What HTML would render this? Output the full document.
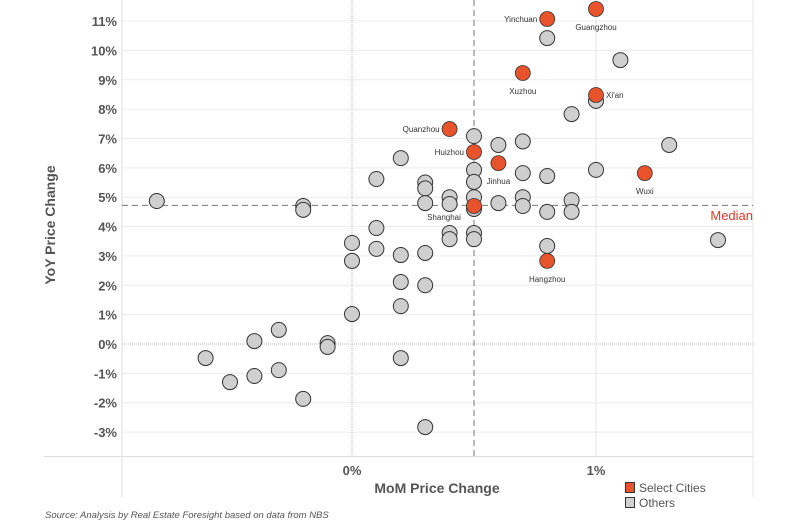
<!DOCTYPE html>
<html><head><meta charset="utf-8"><style>
body{margin:0;background:#fff;width:794px;height:532px;overflow:hidden;font-family:"Liberation Sans",sans-serif}
svg{display:block}
</style></head><body>
<svg id="chart" width="794" height="532">
<g id="grid"></g>
<g id="marks"></g>
<g id="labels"></g>
<text x="55" y="225" transform="rotate(-90 55 225)" text-anchor="middle" font-size="14" font-weight="bold" fill="#555">YoY Price Change</text>
<text x="437" y="493" text-anchor="middle" font-size="14" font-weight="bold" fill="#555">MoM Price Change</text>
<text x="753" y="220" text-anchor="end" font-size="13" fill="#e03a2c">Median</text>
<g>
<rect x="625.5" y="482.5" width="9" height="10" fill="#e8532b" stroke="#333"/>
<text x="639" y="492" font-size="12" fill="#555">Select Cities</text>
<rect x="625.5" y="497.5" width="9" height="10" fill="#d0d0d0" stroke="#333"/>
<text x="639" y="507" font-size="12" fill="#555">Others</text>
</g>
<text x="45" y="518" font-size="9.5" font-style="italic" fill="#555">Source: Analysis by Real Estate Foresight based on data from NBS</text>
</svg>
<script>
const yTicks=[11,10,9,8,7,6,5,4,3,2,1,0,-1,-2,-3];
const xTicks=[0,1];
const medianX=0.5;
const medianY=4.72;
const otherX=[-0.8,-0.2,-0.2,0,0,0,0.1,0.1,0.1,0.2,0.2,0.2,0.2,0.2,0.3,0.3,0.3,0.3,0.3,0.3,0.4,0.4,0.4,0.4,0.5,0.5,0.5,0.5,0.5,0.5,0.5,0.6,0.6,0.7,0.7,0.7,0.7,0.8,0.8,0.8,0.8,0.9,0.9,0.9,1.0,1.0,1.1,1.3,1.5,-0.6,-0.5,-0.4,-0.4,-0.3,-0.3,-0.2,-0.1,-0.1];
const otherY=[4.87,4.7,4.57,3.44,2.83,1.02,5.62,3.95,3.24,6.33,3.03,2.11,1.29,-0.48,5.5,5.3,4.8,3.1,2.0,-2.83,5.0,4.77,3.78,3.57,7.08,5.93,5.52,5.0,4.6,3.78,3.57,6.78,4.8,6.9,5.82,5.0,4.7,10.42,5.72,4.5,3.34,7.83,4.9,4.5,8.28,5.93,9.67,6.78,3.54,-0.48,-1.3,0.1,-1.09,0.48,-0.89,-1.87,0.03,-0.1];
const cityNames=["Guangzhou","Yinchuan","Xuzhou","Xi'an","Quanzhou","Huizhou","Jinhua","Wuxi","Shanghai","Hangzhou"];
const cityX=[1.0,0.8,0.7,1.0,0.4,0.5,0.6,1.2,0.5,0.8];
const cityY=[11.41,11.07,9.23,8.48,7.32,6.54,6.16,5.82,4.7,2.83];
const labelPos=["below","left","below","right","left","left","below","below","below-left","below"];

const sx=v=>352+v*244;
const sy=v=>344-v*29.36;
const NS="http://www.w3.org/2000/svg";
function mk(tag,attrs,parent){const e=document.createElementNS(NS,tag);for(const k in attrs)e.setAttribute(k,attrs[k]);parent.appendChild(e);return e;}
const grid=document.getElementById('grid');
yTicks.forEach(t=>{
  const y=sy(t);
  const l=mk('line',{x1:122,x2:753,y1:y,y2:y,stroke:t===0?'#bbb':'#ececec','stroke-dasharray':t===0?'1,1':'none'},grid);
  
  
  const tx=mk('text',{x:117,y:y+5,'text-anchor':'end','font-size':13,'font-weight':'bold',fill:'#555'},grid);
  tx.textContent=t+'%';
  
  
});
xTicks.forEach(t=>{
  const x=sx(t);
  const l=mk('line',{x1:x,x2:x,y1:0,y2:457,stroke:t===0?'#bbb':'#e6e6e6','stroke-dasharray':t===0?'1,1':'none'},grid);
  
  
  const tx=mk('text',{x:x,y:475,'text-anchor':'middle','font-size':13,'font-weight':'bold',fill:'#555'},grid);
  tx.textContent=t+'%';
  
  
});
let b=mk('line',{x1:122,x2:122,y1:0,y2:497,stroke:'#ddd'},grid);


b=mk('line',{x1:753,x2:753,y1:0,y2:497,stroke:'#e6e6e6'},grid);


b=mk('line',{x1:44,x2:753,y1:456.5,y2:456.5,stroke:'#ddd'},grid);


b=mk('line',{x1:122,x2:753,y1:sy(medianY),y2:sy(medianY),stroke:'#777','stroke-dasharray':'6,4'},grid);


b=mk('line',{x1:sx(medianX),x2:sx(medianX),y1:0,y2:457,stroke:'#777','stroke-dasharray':'6,4'},grid);



const marks=document.getElementById('marks');
otherX.forEach((v,i)=>{
  const c=mk('circle',{cx:sx(v),cy:sy(otherY[i]),r:7.5,fill:'#cfcfcf',stroke:'#333','stroke-width':1},marks);
  
  
});
const labels=document.getElementById('labels');
cityX.forEach((v,i)=>{
  const x=sx(v),y=sy(cityY[i]);
  const c=mk('circle',{cx:x,cy:y,r:7.5,fill:'#e8532b',stroke:'#333','stroke-width':0.8},marks);
  
  
  let a={x:x,y:y+21,'text-anchor':'middle'};
  if(labelPos[i]==='left')a={x:x-10,y:y+3,'text-anchor':'end'};
  if(labelPos[i]==='right')a={x:x+10,y:y+3,'text-anchor':'start'};
  if(labelPos[i]==='below-left')a={x:x-30,y:y+14,'text-anchor':'middle'};
  a['font-size']=8;a.fill='#333';
  const t=mk('text',a,labels);
  t.textContent=cityNames[i];
  
  
});
</script>
</body></html>
